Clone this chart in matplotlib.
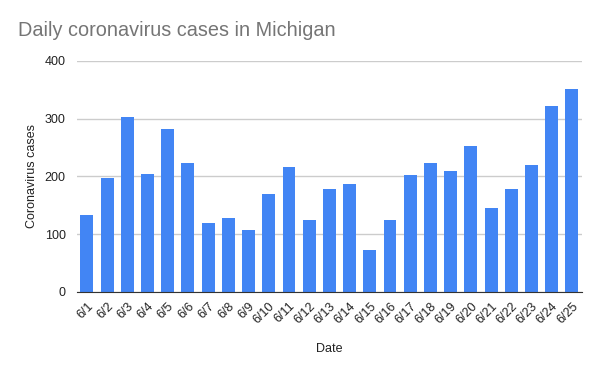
import matplotlib
matplotlib.use('Agg')
import matplotlib.pyplot as plt

plt.rcParams['font.family']=['Liberation Sans','DejaVu Sans']

dates=['6/%d'%d for d in range(1,26)]
cases=[133,197,302,204,282,223,120,128,107,170,216,125,178,
	187,73,125,202,223,209,252,145,178,220,321,351]

fig=plt.figure(figsize=(6,3.71),dpi=100)
ax=fig.add_axes([0.128,0.213,0.842,0.623])
ax.bar(range(len(dates)),cases,width=0.64,color='#4285F4',zorder=3)
ax.set_xlim(-0.5,len(dates)-0.5)
ax.set_ylim(0,400)
ax.set_yticks([0,100,200,300,400])
ax.grid(axis='y',color='#cccccc',linewidth=1,zorder=0)
for s in ['top','right','left']:
	ax.spines[s].set_visible(False)
ax.spines['bottom'].set_color('#333333')
ax.spines['bottom'].set_zorder(4)
ax.tick_params(axis='both',length=0,labelsize=9,colors='#222222')
ax.tick_params(axis='y',pad=8)
ax.set_xticks(range(len(dates)))
ax.set_xticklabels(dates,rotation=45,ha='right',rotation_mode='anchor')
ax.tick_params(axis='x',pad=6)
ax.set_ylabel('Coronavirus cases',fontsize=9,color='#222222',labelpad=5)
ax.set_xlabel('Date',fontsize=9,color='#222222',labelpad=12)
fig.text(0.03,0.917,'Daily coronavirus cases in Michigan',fontsize=14.3,color='#757575',va='center')
fig.savefig('out.png',dpi=100)
